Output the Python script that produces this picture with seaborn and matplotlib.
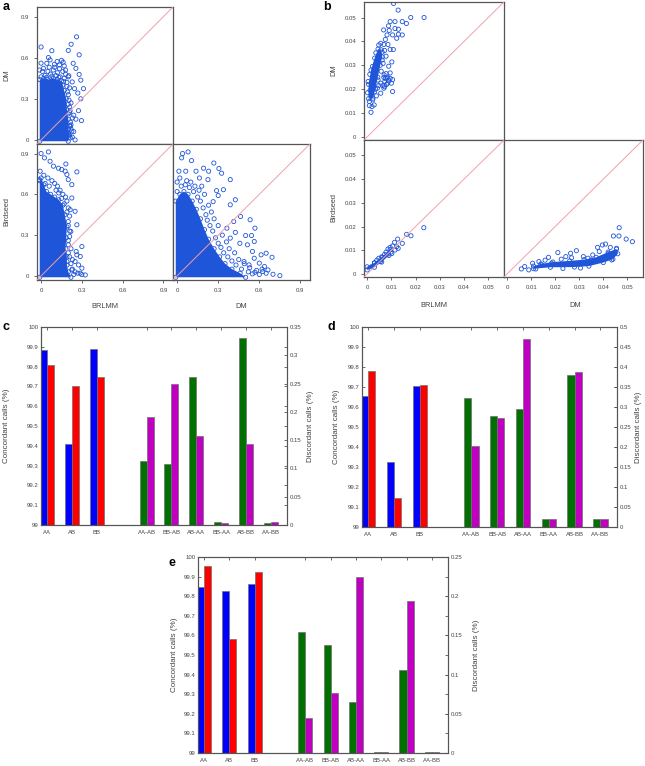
import matplotlib
matplotlib.use("Agg")
import matplotlib.pyplot as plt
import pandas as pd
import seaborn as sns

sns.set_theme(style="white")
plt.rcParams["font.family"] = ["Liberation Sans", "DejaVu Sans"]

W, H = 645, 766
PT_BLUE = "#1f55d8"
DIAG = "#f2a0aa"
SPINE = "#555555"
TXT = "#444444"

# ---- panel a: dense cores (outline of solid region) and visible single points ----
a_dm_brlmm_core = [(-0.01, -0.01), (0.20, -0.01), (0.21, 0.03), (0.20, 0.08), (0.20, 0.15), (0.19, 0.22),
                   (0.185, 0.30), (0.17, 0.36), (0.16, 0.40), (0.15, 0.43), (0.12, 0.44), (0.09, 0.45),
                   (0.05, 0.44), (0.02, 0.45), (-0.01, 0.44)]
a_dm_brlmm_pts = [(0.0, 0.678), (0.079, 0.651), (0.221, 0.698), (0.261, 0.752), (0.280, 0.621), (0.20, 0.653),
                  (0.054, 0.601), (0.066, 0.584), (0.15, 0.58), (0.162, 0.567), (0.236, 0.559), (0.256, 0.522),
                  (0.28, 0.478), (0.292, 0.436), (0.312, 0.374), (0.292, 0.30), (0.275, 0.213), (0.297, 0.141),
                  (0.256, 0.151), (0.213, 0.213), (0.27, 0.342), (0.246, 0.374), (0.229, 0.423), (0.204, 0.468),
                  (0.18, 0.51), (0.135, 0.547), (0.098, 0.552), (0.017, 0.522), (-0.012, 0.51), (0.042, 0.559),
                  (0.118, 0.572), (0.214, 0.101), (0.226, 0.064), (0.204, 0.04),
                  (0.03, 0.47), (0.07, 0.48), (0.11, 0.47), (0.14, 0.46), (0.17, 0.45), (0.19, 0.42), (0.21, 0.38),
                  (0.20, 0.33), (0.22, 0.27), (0.21, 0.20), (0.23, 0.16), (0.22, 0.11), (0.24, 0.06), (0.23, 0.02),
                  (0.25, 0.0), (0.01, 0.50), (0.05, 0.50), (0.09, 0.51), (0.12, 0.49), (0.16, 0.50), (0.18, 0.48),
                  (0.20, 0.46), (0.19, 0.39), (0.20, 0.26), (0.21, 0.24), (0.24, 0.18), (0.22, 0.08), (0.20, 0.05),
                  (0.215, 0.13), (0.17, 0.54), (0.10, 0.53), (0.135, 0.52), (0.06, 0.53), (0.0, 0.56),
                  (0.0, 0.46), (0.04, 0.455), (0.08, 0.465), (0.13, 0.455), (0.165, 0.425), (0.195, 0.35),
                  (0.205, 0.29), (0.2, 0.19), (0.21, 0.1), (0.215, 0.015)]

a_bs_brlmm_core = [(-0.01, -0.01), (0.22, -0.01), (0.20, 0.03), (0.19, 0.08), (0.19, 0.14), (0.18, 0.20),
                   (0.185, 0.28), (0.19, 0.36), (0.175, 0.45), (0.16, 0.52), (0.13, 0.56), (0.10, 0.58),
                   (0.07, 0.60), (0.04, 0.62), (0.02, 0.67), (0.0, 0.72), (-0.01, 0.70)]
a_bs_brlmm_pts = [(0.0, 0.90), (0.054, 0.912), (0.025, 0.868), (0.066, 0.843), (0.091, 0.807), (0.128, 0.792),
                  (0.152, 0.782), (0.177, 0.770), (0.19, 0.745), (0.263, 0.765), (0.182, 0.823), (-0.007, 0.77),
                  (-0.012, 0.708), (0.20, 0.708), (0.226, 0.573), (0.226, 0.671), (0.214, 0.487), (0.25, 0.475),
                  (0.263, 0.376), (0.219, 0.327), (0.20, 0.229), (0.30, 0.216), (0.263, 0.155), (0.25, 0.106),
                  (0.275, 0.081), (0.30, 0.057), (0.325, 0.007), (0.288, 0.02), (0.226, 0.044), (0.19, 0.106),
                  (0.258, 0.179), (0.288, 0.143),
                  (0.02, 0.74), (0.05, 0.72), (0.08, 0.70), (0.10, 0.68), (0.12, 0.66), (0.14, 0.63), (0.16, 0.60),
                  (0.18, 0.58), (0.19, 0.55), (0.20, 0.50), (0.21, 0.44), (0.20, 0.40), (0.21, 0.33), (0.20, 0.26),
                  (0.22, 0.20), (0.21, 0.14), (0.22, 0.09), (0.23, 0.05), (0.25, 0.03), (0.27, 0.02), (0.30, 0.01),
                  (0.24, 0.01), (0.06, 0.66), (0.11, 0.63), (0.03, 0.68), (0.15, 0.57), (0.13, 0.61), (0.17, 0.53),
                  (0.19, 0.47), (0.20, 0.37), (0.21, 0.29), (0.20, 0.17), (0.23, 0.12)]

a_bs_dm_core = [(-0.01, -0.01), (0.50, -0.01), (0.46, 0.02), (0.40, 0.05), (0.35, 0.09), (0.31, 0.14),
                (0.27, 0.20), (0.23, 0.27), (0.20, 0.34), (0.17, 0.42), (0.14, 0.49), (0.11, 0.55),
                (0.08, 0.60), (0.05, 0.62), (0.02, 0.60), (-0.01, 0.55)]
a_bs_dm_pts = [(0.04, 0.90), (0.08, 0.912), (0.033, 0.868), (0.105, 0.848), (0.013, 0.77), (0.063, 0.77),
               (0.138, 0.77), (0.193, 0.792), (0.23, 0.77), (0.268, 0.83), (0.305, 0.79), (0.325, 0.755),
               (0.388, 0.708), (0.225, 0.708), (0.163, 0.72), (0.288, 0.627), (0.338, 0.634), (0.30, 0.591),
               (0.425, 0.56), (0.388, 0.523), (0.263, 0.546), (0.463, 0.437), (0.533, 0.413), (0.568, 0.351),
               (0.50, 0.297), (0.543, 0.297), (0.563, 0.253), (0.425, 0.32), (0.458, 0.24), (0.513, 0.229),
               (0.55, 0.18), (0.613, 0.155), (0.65, 0.167), (0.693, 0.137), (0.563, 0.13), (0.60, 0.094),
               (0.638, 0.069), (0.663, 0.044), (0.625, 0.032), (0.568, 0.027), (0.70, 0.012), (0.75, 0.002),
               (0.525, 0.081), (0.488, 0.106), (0.388, 0.278), (0.363, 0.351), (0.413, 0.40),
               (0.0, 0.62), (0.03, 0.66), (0.06, 0.67), (0.09, 0.65), (0.12, 0.62), (0.15, 0.58), (0.17, 0.55),
               (0.19, 0.50), (0.21, 0.45), (0.22, 0.41), (0.24, 0.37), (0.26, 0.33), (0.28, 0.28), (0.30, 0.24),
               (0.32, 0.21), (0.34, 0.17), (0.37, 0.14), (0.40, 0.11), (0.43, 0.08), (0.47, 0.05), (0.52, 0.03),
               (0.55, 0.015), (0.60, 0.01), (0.65, 0.02), (0.0, 0.69), (0.02, 0.72), (0.07, 0.70), (0.10, 0.69),
               (0.13, 0.66), (0.16, 0.63), (0.20, 0.60), (0.18, 0.66), (0.23, 0.52), (0.25, 0.47), (0.27, 0.42),
               (0.30, 0.37), (0.33, 0.30), (0.36, 0.25), (0.38, 0.20), (0.42, 0.17), (0.45, 0.12), (0.49, 0.09),
               (0.53, 0.06), (0.58, 0.04), (0.62, 0.05)]

# ---- panel b ----
b_dm_brlmm_core = [(0.0006, 0.016), (0.0024, 0.0162), (0.0034, 0.020), (0.0044, 0.025), (0.0054, 0.030),
                   (0.0062, 0.0335), (0.0058, 0.0365), (0.0045, 0.0368), (0.0031, 0.033), (0.0016, 0.028),
                   (0.0006, 0.022)]
b_dm_brlmm_pts = [(0.0109, 0.0559), (0.0128, 0.0531), (0.0235, 0.050), (0.0180, 0.050), (0.0145, 0.0483),
                  (0.0162, 0.0475), (0.0115, 0.0483), (0.0095, 0.0483), (0.0088, 0.0465), (0.0068, 0.0448),
                  (0.0091, 0.0446), (0.0115, 0.0454), (0.0129, 0.0451), (0.0105, 0.0427), (0.0129, 0.043),
                  (0.0145, 0.0427), (0.0122, 0.0413), (0.0082, 0.0427), (0.0075, 0.0408), (0.0056, 0.0392),
                  (0.0069, 0.0387), (0.0086, 0.0387), (0.0095, 0.0366), (0.0108, 0.0366), (0.0102, 0.0314),
                  (0.0089, 0.0296), (0.0095, 0.0268), (0.0069, 0.0249), (0.0082, 0.0246), (0.0073, 0.0232),
                  (0.0056, 0.0225), (0.0042, 0.0204), (0.0069, 0.0204), (0.0105, 0.019), (0.0056, 0.0183),
                  (0.0029, 0.0134), (0.0020, 0.0127), (0.0009, 0.0131), (0.0016, 0.0103), (0.0009, 0.0148),
                  (0.0023, 0.0155), (0.0016, 0.0176), (0.0075, 0.0245), (0.0085, 0.025), (0.009, 0.0235),
                  (0.0095, 0.0245), (0.0085, 0.0225), (0.008, 0.022), (0.0072, 0.021), (0.0065, 0.0215),
                  (0.010, 0.0225), (0.0105, 0.024), (0.007, 0.026), (0.0078, 0.0265), (0.0052, 0.0345),
                  (0.0062, 0.0355), (0.0048, 0.0385), (0.0072, 0.0362), (0.0078, 0.0338), (0.0035, 0.0305),
                  (0.0038, 0.0172), (0.0012, 0.0195), (0.0048, 0.0215), (0.0058, 0.0275), (0.0066, 0.0308),
                  (0.0002, 0.0185), (0.0004, 0.0232), (0.0011, 0.0262), (0.0022, 0.0295), (0.0036, 0.0352),
                  (0.0030, 0.0188), (0.0045, 0.0238), (0.0062, 0.0322)]

b_bs_brlmm_core = [(0.0, 0.0017), (0.003, 0.0028), (0.006, 0.005), (0.009, 0.0078),
                   (0.0095, 0.0102), (0.006, 0.0072), (0.003, 0.0047), (0.0, 0.0030)]
b_bs_brlmm_pts = [(0.0234, 0.0195), (0.0163, 0.0167), (0.0181, 0.0161), (0.0126, 0.0147), (0.0145, 0.0129),
                  (0.0113, 0.0133), (0.0105, 0.0118), (0.0122, 0.0115), (0.0095, 0.0112), (0.0086, 0.0105),
                  (0.0115, 0.0101), (0.0128, 0.0108), (0.0098, 0.0092), (0.0072, 0.0082), (0.0062, 0.0070),
                  (0.0088, 0.0084), (0.0040, 0.0058), (0.0030, 0.0046), (0.0055, 0.0052), (0.0018, 0.0030),
                  (0.0078, 0.0092), (0.0102, 0.0086), (0.0048, 0.0066)]

b_bs_dm_core = [(0.011, 0.0022), (0.018, 0.0028), (0.028, 0.0029), (0.034, 0.0033), (0.040, 0.0048),
                (0.044, 0.0062), (0.046, 0.0085), (0.0455, 0.0105), (0.042, 0.0092), (0.037, 0.0070),
                (0.032, 0.0060), (0.026, 0.0055), (0.019, 0.0050), (0.014, 0.0042), (0.011, 0.0033)]
b_bs_dm_pts = [(0.0466, 0.0195), (0.0442, 0.016), (0.0465, 0.016), (0.0495, 0.0147), (0.0521, 0.0136),
               (0.0449, 0.009), (0.0455, 0.0108), (0.0429, 0.0112), (0.0409, 0.0126), (0.0396, 0.0122),
               (0.0376, 0.0112), (0.0383, 0.0094), (0.0356, 0.008), (0.0336, 0.0066), (0.0317, 0.0073),
               (0.0288, 0.0098), (0.0264, 0.0087), (0.0211, 0.009), (0.0244, 0.0073), (0.0172, 0.007),
               (0.0132, 0.0052), (0.0106, 0.0045), (0.0073, 0.0031), (0.0059, 0.0021), (0.009, 0.0017),
               (0.0119, 0.0021), (0.0145, 0.0038), (0.0185, 0.0045), (0.0389, 0.0066), (0.0422, 0.0087),
               (0.0435, 0.0059), (0.035, 0.0059), (0.0225, 0.0062), (0.0158, 0.0058), (0.0305, 0.0025),
               (0.0268, 0.0068), (0.0232, 0.0023)]

# ---- panels c, d, e: concordant (left axis) and discordant (right axis) calls ----
conc_cats = ["AA", "AB", "BB"]
disc_cats = ["AA-AB", "BB-AB", "AB-AA", "BB-AA", "AB-BB", "AA-BB"]
conc_pos = [1, 2, 3]
disc_pos = [5, 6, 7, 8, 9, 10]

c_blue = [99.883, 99.411, 99.890]
c_red = [99.808, 99.701, 99.746]
c_green = [0.113, 0.1075, 0.261, 0.006, 0.330, 0.004]
c_magenta = [0.191, 0.250, 0.157, 0.004, 0.143, 0.005]

d_blue = [99.657, 99.325, 99.705]
d_red = [99.780, 99.143, 99.710]
d_green = [0.323, 0.277, 0.295, 0.020, 0.380, 0.019]
d_magenta = [0.203, 0.272, 0.470, 0.019, 0.387, 0.019]

e_blue = [99.845, 99.828, 99.863]
e_red = [99.955, 99.583, 99.924]
e_green = [0.154, 0.138, 0.065, 0.001, 0.106, 0.0008]
e_magenta = [0.0445, 0.076, 0.224, 0.0008, 0.1935, 0.001]

fig = plt.figure(figsize=(W / 100, H / 100), dpi=100)


def rect(x0, y0, x1, y1):
    return [x0 / W, 1 - y1 / H, (x1 - x0) / W, (y1 - y0) / H]


def ftext(px, py, s, **kw):
    kw.setdefault("ha", "center")
    kw.setdefault("va", "center")
    kw.setdefault("color", TXT)
    fig.text(px / W, 1 - py / H, s, **kw)


def scatter_panel(box, core, pts, lim, ticks, tlabels, show_x, show_y):
    ax = fig.add_axes(rect(*box))
    cx, cy = zip(*core)
    ax.fill(cx, cy, color=PT_BLUE, lw=0, zorder=1)
    df = pd.DataFrame(list(core) + list(pts), columns=["x", "y"])
    sns.scatterplot(data=df, x="x", y="y", ax=ax, s=9, facecolor="none", edgecolor=PT_BLUE,
                    linewidth=0.6, zorder=2, legend=False)
    ax.plot(lim, lim, color=DIAG, lw=0.7, zorder=3)
    ax.set_xlim(lim)
    ax.set_ylim(lim)
    ax.set_xlabel("")
    ax.set_ylabel("")
    ax.set_xticks(ticks if show_x else [])
    ax.set_yticks(ticks if show_y else [])
    if show_x:
        ax.set_xticklabels(tlabels)
    if show_y:
        ax.set_yticklabels(tlabels)
    ax.tick_params(direction="out", length=2.5, width=0.6, colors=SPINE, labelcolor=TXT,
                   labelsize=4.3, pad=3, bottom=show_x, left=show_y)
    for sp in ax.spines.values():
        sp.set_color(SPINE)
        sp.set_linewidth(0.9)
    return ax


def bar_panel(box, blue, red, green, magenta, rtop, rticks):
    ax = fig.add_axes(rect(*box))
    conc = pd.DataFrame({"pos": conc_pos * 2, "calls": blue + red,
                         "set": ["first"] * 3 + ["second"] * 3})
    sns.barplot(data=conc, x="pos", y="calls", hue="set", native_scale=True, ax=ax,
                palette={"first": "#0000ff", "second": "#ff0000"}, width=0.56, saturation=1,
                errorbar=None, legend=False, edgecolor="#707070", linewidth=0.5)
    ax2 = ax.twinx()
    disc = pd.DataFrame({"pos": disc_pos * 2, "calls": green + magenta,
                         "set": ["first"] * 6 + ["second"] * 6})
    sns.barplot(data=disc, x="pos", y="calls", hue="set", native_scale=True, ax=ax2,
                palette={"first": "#007000", "second": "#c000c0"}, width=0.56, saturation=1,
                errorbar=None, legend=False, edgecolor="#707070", linewidth=0.5)
    ax.set_ylim(99, 100)
    ax.set_yticks([99 + i / 10 for i in range(11)])
    ax.set_yticklabels(["99"] + [f"{99 + i / 10:.1f}" for i in range(1, 10)] + ["100"])
    ax2.set_ylim(0, rtop)
    ax2.set_yticks(rticks)
    ax2.set_yticklabels(["0"] + [f"{t:g}" for t in rticks[1:]])
    ax.set_xlim(0.76, 10.64)
    ax.set_xticks(conc_pos + disc_pos)
    ax.set_xticklabels(conc_cats + disc_cats)
    for a in (ax, ax2):
        a.set_xlabel("")
        a.set_ylabel("")
        for sp in a.spines.values():
            sp.set_color(SPINE)
            sp.set_linewidth(0.8)
    ax.tick_params(axis="both", direction="in", length=2.5, width=0.6, colors=SPINE,
                   labelcolor=TXT, labelsize=4.3, pad=2, top=True, right=True)
    ax.tick_params(axis="x", pad=3.5)
    ax2.tick_params(axis="y", direction="in", length=2.5, width=0.6, colors=SPINE,
                    labelcolor=TXT, labelsize=4.3, pad=2)
    return ax, ax2


# panel a
lim_a = (-0.03, 0.97)
ticks_a = [0, 0.3, 0.6, 0.9]
lab_a = ["0", "0.3", "0.6", "0.9"]
scatter_panel((37, 7, 173, 144), a_dm_brlmm_core, a_dm_brlmm_pts, lim_a, ticks_a, lab_a, False, True)
scatter_panel((37, 144, 173, 280), a_bs_brlmm_core, a_bs_brlmm_pts, lim_a, ticks_a, lab_a, True, True)
scatter_panel((173, 144, 310, 280), a_bs_dm_core, a_bs_dm_pts, lim_a, ticks_a, lab_a, True, False)

# panel b
lim_b = (-0.0013, 0.0565)
ticks_b = [0, 0.01, 0.02, 0.03, 0.04, 0.05]
lab_b = ["0", "0.01", "0.02", "0.03", "0.04", "0.05"]
scatter_panel((364, 2, 504, 140), b_dm_brlmm_core, b_dm_brlmm_pts, lim_b, ticks_b, lab_b, False, True)
scatter_panel((364, 140, 504, 277), b_bs_brlmm_core, b_bs_brlmm_pts, lim_b, ticks_b, lab_b, True, True)
scatter_panel((504, 140, 643, 277), b_bs_dm_core, b_bs_dm_pts, lim_b, ticks_b, lab_b, True, False)

# panels c, d, e
bar_panel((41, 327, 287, 525), c_blue, c_red, c_green, c_magenta, 0.35,
          [0, 0.05, 0.1, 0.15, 0.2, 0.25, 0.3, 0.35])
bar_panel((362, 327, 617, 527), d_blue, d_red, d_green, d_magenta, 0.5,
          [0, 0.05, 0.1, 0.15, 0.2, 0.25, 0.3, 0.35, 0.4, 0.45, 0.5])
bar_panel((198, 557, 448, 753), e_blue, e_red, e_green, e_magenta, 0.25,
          [0, 0.05, 0.1, 0.15, 0.2, 0.25])

# axis titles and panel letters
ls = 5.3
ftext(7, 75, "DM", rotation=90, fontsize=ls)
ftext(7, 212, "Birdseed", rotation=90, fontsize=ls)
ftext(105, 307, "BRLMM", fontsize=ls)
ftext(241, 307, "DM", fontsize=ls)
ftext(334, 70, "DM", rotation=90, fontsize=ls)
ftext(334, 208, "Birdseed", rotation=90, fontsize=ls)
ftext(434, 305, "BRLMM", fontsize=ls)
ftext(575, 305, "DM", fontsize=ls)

ftext(7, 426, "Concordant calls (%)", rotation=90, fontsize=5.8)
ftext(311, 426, "Discordant calls (%)", rotation=90, fontsize=5.8)
ftext(336, 427, "Concordant calls (%)", rotation=90, fontsize=5.8)
ftext(638, 427, "Discordant calls (%)", rotation=90, fontsize=5.8)
ftext(175, 655, "Concordant calls (%)", rotation=90, fontsize=5.8)
ftext(477, 655, "Discordant calls (%)", rotation=90, fontsize=5.8)

for letter, px, py in [("a", 6, 0.5), ("b", 327, 0.5), ("c", 6, 321), ("d", 331, 321), ("e", 172, 557)]:
    ftext(px, py, letter, fontsize=9, fontweight="bold", color="black", va="top")

fig.savefig("out.png", dpi=100)
